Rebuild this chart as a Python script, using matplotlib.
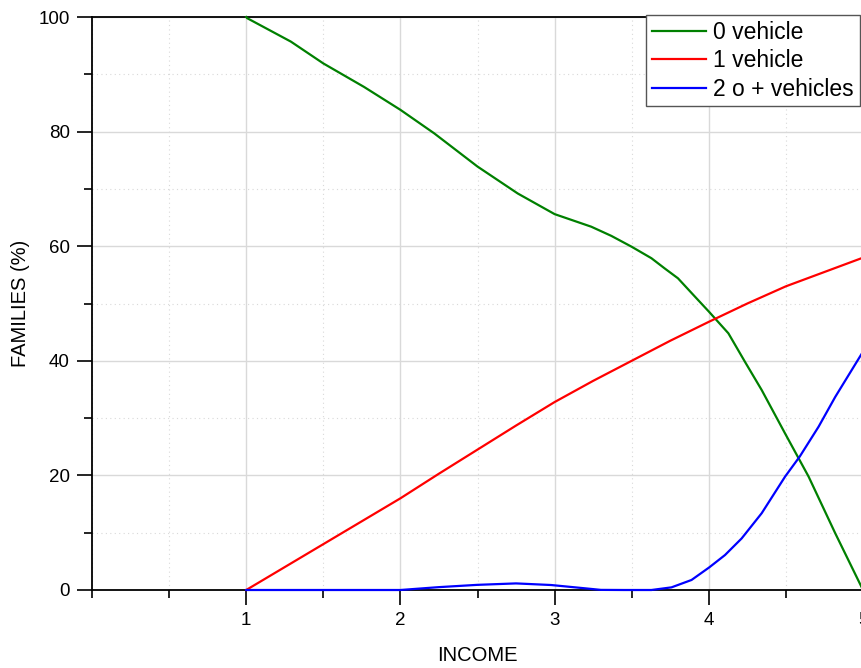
import matplotlib
matplotlib.use("Agg")
import matplotlib.pyplot as plt
from matplotlib.ticker import MultipleLocator

plt.rcParams['font.family'] = ['Liberation Sans', 'DejaVu Sans']

# Data
x_zero = [1, 1.006, 1.29, 1.5, 1.764, 2, 2.219, 2.5, 2.761, 3, 3.238, 3.368, 3.5, 3.628,
          3.715, 3.8, 3.91, 4.0, 4.127, 4.235, 4.343, 4.495, 4.647, 4.82, 5]
y_zero = [100, 99.8, 95.7, 91.9, 87.8, 83.8, 79.7, 73.9, 69.2, 65.6, 63.4, 61.8, 59.9, 57.9,
          56.1, 54.4, 51.2, 48.6, 44.8, 39.8, 34.9, 27.3, 19.8, 9.9, 0]

x_one = [1, 1.25, 1.5, 1.75, 2, 2.25, 2.5, 2.75, 3, 3.25, 3.5, 3.75, 4, 4.25, 4.5, 4.75, 5]
y_one = [0, 4, 8, 12, 16, 20.3, 24.5, 28.7, 32.8, 36.5, 40, 43.5, 46.8, 50, 53, 55.5, 58]

x_two = [1, 2, 2.25, 2.5, 2.75, 2.977, 3.195, 3.3, 3.45, 3.628, 3.758, 3.888, 4.003, 4.105,
         4.213, 4.343, 4.495, 4.59, 4.712, 4.82, 5]
y_two = [0, 0, 0.5, 0.9, 1.15, 0.87, 0.3, 0.02, 0, 0, 0.46, 1.75, 3.95, 6.1,
         9.0, 13.4, 19.8, 23.3, 28.5, 33.7, 41.6]

labels = ['0 vehicle', '1 vehicle', '2 o + vehicles']
colors = ['#008000', '#ff0000', '#0000ff']
xticks = [1, 2, 3, 4, 5]
yticks = [0, 20, 40, 60, 80, 100]

W, H = 861, 668
fig = plt.figure(figsize=(W / 100, H / 100), dpi=100)
ax = fig.add_axes([92 / W, (H - 590) / H, (863 - 92) / W, (590 - 17) / H])

for xs, ys, lab, c in zip([x_zero, x_one, x_two], [y_zero, y_one, y_two], labels, colors):
    ax.plot(xs, ys, color=c, lw=1.6, label=lab, clip_on=False, zorder=3)

ax.set_xlim(0, 5)
ax.set_ylim(0, 100)
ax.set_xticks(xticks)
ax.set_xticklabels([str(t) for t in xticks])
ax.set_yticks(yticks)
ax.set_yticklabels([str(t) for t in yticks])
ax.xaxis.set_minor_locator(MultipleLocator(0.5))
ax.yaxis.set_minor_locator(MultipleLocator(10))

ax.tick_params(which='major', length=11, width=1.2, direction='out', labelsize=13.5, pad=5, colors='black')
ax.tick_params(which='minor', length=6, width=1.2, direction='out')
ax.tick_params(axis='x', which='major', pad=5)

ax.grid(which='major', color='#d9d9d9', lw=1.0, ls='-')
ax.grid(which='minor', color='#d9d9d9', lw=0.8, ls=(0, (1, 3)))
ax.set_axisbelow(True)

for s in ax.spines.values():
    s.set_linewidth(1.3)
    s.set_color('black')

ax.set_xlabel('INCOME', fontsize=14.5, labelpad=12)
ax.set_ylabel('FAMILIES (%)', fontsize=14.5, labelpad=6)

leg = ax.legend(loc='upper right', bbox_to_anchor=(859.5 / W, (H - 15) / H),
                bbox_transform=fig.transFigure, borderaxespad=0,
                fontsize=16.5, handlelength=2.36, handletextpad=0.3,
                labelspacing=0.24, borderpad=0.25, fancybox=False,
                framealpha=1, edgecolor='#555555')
leg.get_frame().set_linewidth(1.0)
leg.set_zorder(5)

fig.savefig('out.png', dpi=100)
